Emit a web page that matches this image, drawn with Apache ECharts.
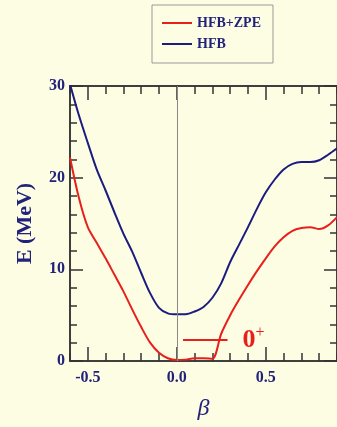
<!DOCTYPE html>
<html>
<head>
<meta charset="utf-8">
<script src="https://cdn.jsdelivr.net/npm/echarts@6/dist/echarts.min.js"></script>
<style>
  html, body { margin: 0; padding: 0; background: #fdfde4; }
  #chart { width: 337px; height: 427px; }
</style>
</head>
<body>
<div id="chart"></div>
<script>
// beta grid shared by both curves
var beta = [-0.60, -0.55, -0.50, -0.45, -0.40, -0.35, -0.30, -0.25, -0.20, -0.15,
            -0.10, -0.05, 0.00, 0.05, 0.10, 0.15, 0.20, 0.25, 0.30, 0.35,
            0.40, 0.45, 0.50, 0.55, 0.60, 0.65, 0.70, 0.75, 0.80, 0.85, 0.90];
// HFB energy (MeV)
var hfb = [30.2, 26.8, 23.8, 20.9, 18.6, 16.2, 13.9, 11.9, 9.6, 7.4,
           5.8, 5.2, 5.1, 5.1, 5.4, 5.9, 6.9, 8.5, 10.8, 12.7,
           14.6, 16.6, 18.4, 19.8, 20.9, 21.5, 21.7, 21.7, 21.9, 22.5, 23.2];
// HFB+ZPE energy (MeV)
var hfbZpe = [22.2, 17.8, 14.6, 12.9, 11.2, 9.4, 7.6, 5.6, 3.7, 2.0,
              0.9, 0.3, 0.1, 0.15, 0.3, 0.3, 0.25, 3.0, 5.0, 6.7,
              8.3, 9.8, 11.2, 12.5, 13.5, 14.2, 14.5, 14.6, 14.4, 14.8, 15.7];
// 0+ level
var levelBeta = [0.035, 0.285];
var levelE = 2.3;

var xMajor = [-0.5, 0, 0.5];
var xMinor = [-0.6, -0.4, -0.3, -0.2, -0.1, 0.1, 0.2, 0.3, 0.4, 0.6, 0.7, 0.8, 0.9];
var yMajor = [0, 10, 20, 30];
var yMinor = [2, 4, 6, 8, 12, 14, 16, 18, 22, 24, 26, 28];

var navy = '#22227a';
var serif = '"Liberation Serif", "DejaVu Serif", serif';
var axisCol = '#333';

function pairs(xs, ys) {
  return xs.map(function (x, i) { return [x, ys[i]]; });
}

function xAx(pos, ticks, len, withLabels) {
  return {
    type: 'value', position: pos, min: -0.6, max: 0.9,
    axisLine: { show: true, onZero: false, lineStyle: { color: axisCol, width: 1.5 } },
    axisTick: { show: true, inside: true, length: len, customValues: ticks,
                lineStyle: { color: axisCol, width: 1.5 } },
    axisLabel: withLabels ? {
      show: true, customValues: xMajor, margin: 9,
      color: navy, fontFamily: serif, fontWeight: 'bold', fontSize: 16,
      formatter: function (v) { return v.toFixed(1); }
    } : { show: false },
    splitLine: { show: false }
  };
}

function yAx(pos, ticks, len, withLabels) {
  return {
    type: 'value', position: pos, min: 0, max: 30,
    axisLine: { show: true, onZero: false, lineStyle: { color: axisCol, width: 1.5 } },
    axisTick: { show: true, inside: true, length: len, customValues: ticks,
                lineStyle: { color: axisCol, width: 1.5 } },
    axisLabel: withLabels ? {
      show: true, customValues: yMajor, margin: 5,
      color: navy, fontFamily: serif, fontWeight: 'bold', fontSize: 16
    } : { show: false },
    splitLine: { show: false }
  };
}

var xAxes = [xAx('bottom', xMajor, 14, true), xAx('bottom', xMinor, 8, false),
             xAx('top', xMajor, 14, false), xAx('top', xMinor, 8, false)];
xAxes[0].name = 'β';
xAxes[0].nameLocation = 'middle';
xAxes[0].nameGap = 36;
xAxes[0].nameTextStyle = { color: navy, fontFamily: serif, fontStyle: 'italic', fontSize: 24 };

var yAxes = [yAx('left', yMajor, 13, true), yAx('left', yMinor, 7, false),
             yAx('right', yMajor, 13, false), yAx('right', yMinor, 7, false)];
yAxes[0].name = 'E (MeV)';
yAxes[0].nameLocation = 'middle';
yAxes[0].nameGap = 34;
yAxes[0].nameTextStyle = { color: navy, fontFamily: serif, fontWeight: 'bold', fontSize: 22 };

var chart = echarts.init(document.getElementById('chart'));
chart.setOption({
  backgroundColor: '#fdfde4',
  animation: false,
  grid: { left: 70, right: -1, top: 86, bottom: 66 },
  legend: {
    orient: 'vertical', left: 152, top: 5,
    padding: [11, 12, 12, 10], itemGap: 7,
    borderColor: '#999', borderWidth: 1,
    icon: 'rect', itemWidth: 30, itemHeight: 2,
    textStyle: { color: navy, fontFamily: serif, fontWeight: 'bold', fontSize: 14 },
    data: ['HFB+ZPE', 'HFB']
  },
  xAxis: xAxes,
  yAxis: yAxes,
  series: [
    {
      name: 'HFB+ZPE', type: 'line', smooth: 0.3, showSymbol: false,
      xAxisIndex: 0, yAxisIndex: 0,
      lineStyle: { color: '#e8201c', width: 2 }, itemStyle: { color: '#e8201c' },
      data: pairs(beta, hfbZpe),
      markLine: {
        silent: true, symbol: 'none', label: { show: false },
        lineStyle: { color: '#888', width: 1, type: 'solid' },
        data: [{ xAxis: 0 }]
      }
    },
    {
      name: 'HFB', type: 'line', smooth: 0.3, showSymbol: false,
      xAxisIndex: 0, yAxisIndex: 0,
      lineStyle: { color: '#1c1c80', width: 2 }, itemStyle: { color: '#1c1c80' },
      data: pairs(beta, hfb)
    },
    {
      name: 'level', type: 'line', showSymbol: false, symbol: 'none',
      xAxisIndex: 0, yAxisIndex: 0,
      lineStyle: { color: '#e8201c', width: 2 },
      endLabel: {
        show: true, distance: 15,
        formatter: '{a|0}{b|+}',
        rich: {
          a: { color: '#e8201c', fontFamily: serif, fontWeight: 'bold', fontSize: 26 },
          b: { color: '#e8201c', fontFamily: serif, fontSize: 16, padding: [0, 0, 14, 0] }
        }
      },
      data: levelBeta.map(function (b) { return [b, levelE]; })
    }
  ]
});
</script>
</body>
</html>
